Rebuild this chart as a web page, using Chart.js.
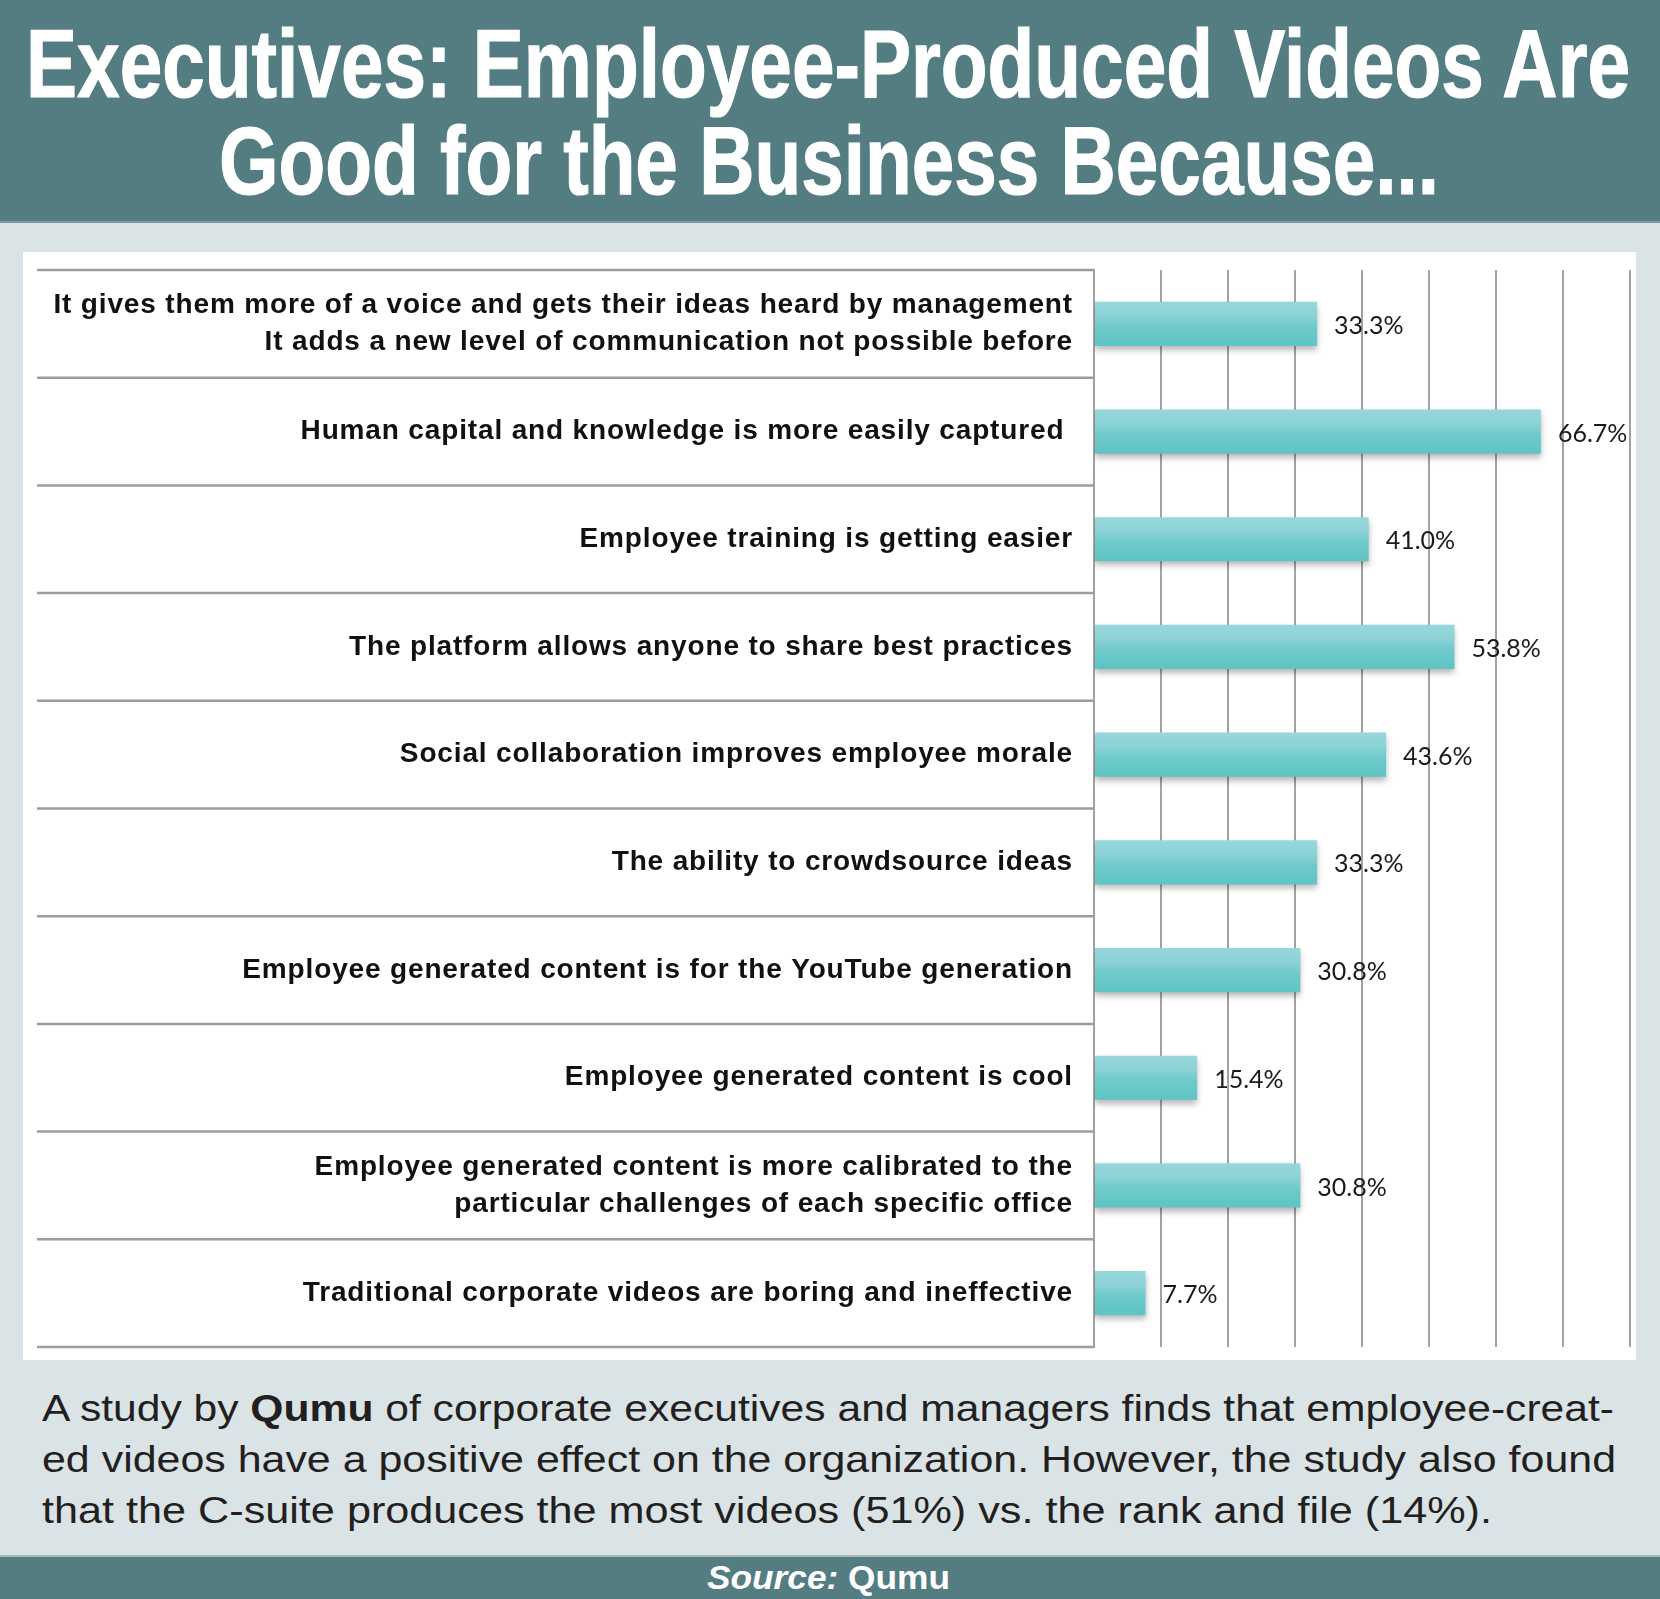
<!DOCTYPE html>
<html>
<head>
<meta charset="utf-8">
<script src="https://cdn.jsdelivr.net/npm/chart.js@4.4.1/dist/chart.umd.min.js"></script>
<style>
  html, body { margin: 0; padding: 0; }
  body { width: 1660px; height: 1599px; overflow: hidden; background: #dae3e5; position: relative; font-family: "Liberation Sans", Arial, sans-serif; }
  #header { position: absolute; left: 0; top: 0; width: 1660px; height: 221px; background: #537d81; border-bottom: 2px solid #7d9a9e; }
  .fit { position: absolute; white-space: nowrap; transform-origin: 0 0; }
  .title { font-family: "Liberation Sans Narrow", "Liberation Sans", Arial, sans-serif; font-weight: bold; font-size: 97px; line-height: 97px; color: #fff; -webkit-text-stroke: 1.2px #fff; }
  #panel { position: absolute; left: 23px; top: 252px; width: 1613px; height: 1108px; background: #fff; }
  .para { font-size: 36px; line-height: 36px; color: #231f20; }
  #source { position: absolute; left: 0; top: 1555px; width: 1660px; height: 42px; background: #537d81; border-top: 2px solid #a8b8ba; }
  .src { font-weight: bold; font-size: 34px; line-height: 34px; color: #fff; }
</style>
</head>
<body>
<div id="header"></div>
<div class="fit title" data-left="26" data-width="1604" style="top:15px">Executives: Employee-Produced Videos Are</div>
<div class="fit title" data-left="219" data-width="1220" style="top:112px">Good for the Business Because...</div>

<div id="panel"><canvas id="myChart" width="1613" height="1108"></canvas></div>

<div class="fit para" data-left="42" data-width="1572" style="top:1391px">A study by <b>Qumu</b> of corporate executives and managers finds that employee-creat-</div>
<div class="fit para" data-left="42" data-width="1574" style="top:1442px">ed videos have a positive effect on the organization. However, the study also found</div>
<div class="fit para" data-left="42" data-width="1450" style="top:1493px">that the C-suite produces the most videos (51%) vs. the rank and file (14%).</div>

<div id="source"></div>
<div class="fit src" data-left="707" data-width="243" style="top:1560px"><i>Source:</i> Qumu</div>

<script>
const reasons = [
    ['It gives them more of a voice and gets their ideas heard by management', 'It adds a new level of communication not possible before'],
    'Human capital and knowledge is more easily captured ',
    'Employee training is getting easier',
    'The platform allows anyone to share best practices',
    'Social collaboration improves employee morale',
    'The ability to crowdsource ideas',
    'Employee generated content is for the YouTube generation',
    'Employee generated content is cool',
    ['Employee generated content is more calibrated to the', 'particular challenges of each specific office'],
    'Traditional corporate videos are boring and ineffective'
]
const shares = [33.3, 66.7, 41.0, 53.8, 43.6, 33.3, 30.8, 15.4, 30.8, 7.7]
const axisMax = 80
const axisStep = 10

const barPct = 0.41
const labelSpacing = '0.85px'

function fitLines() {
    document.querySelectorAll('.fit').forEach(el => {
        const w = el.getBoundingClientRect().width
        const target = parseFloat(el.dataset.width)
        el.style.left = el.dataset.left + 'px'
        el.style.transform = 'scaleX(' + (target / w) + ')'
    })
}

function barFill(context) {
    const chart = context.chart
    const y = chart.scales.y
    if (!chart.chartArea || !y) return '#70caca'
    const yc = y.getPixelForValue(context.dataIndex)
    const half = (y.getPixelForValue(1) - y.getPixelForValue(0)) * barPct / 2
    const g = chart.ctx.createLinearGradient(0, yc - half, 0, yc + half)
    g.addColorStop(0, '#96d7db')
    g.addColorStop(0.3, '#8dd3d6')
    g.addColorStop(0.55, '#70cacb')
    g.addColorStop(1, '#5ec4c3')
    return g
}

// row separators in the label area + bar shadow + value labels
const rowsPlugin = {
    id: 'rows',
    beforeLayout(chart) { chart.ctx.letterSpacing = labelSpacing },
    beforeDraw(chart) { chart.ctx.letterSpacing = labelSpacing },
    beforeDatasetsDraw(chart) {
        const ctx = chart.ctx
        const y = chart.scales.y
        const area = chart.chartArea
        const step = y.getPixelForValue(1) - y.getPixelForValue(0)
        ctx.save()
        ctx.strokeStyle = '#9d9d9d'
        ctx.lineWidth = 2.5
        for (let i = 0; i <= reasons.length; i++) {
            const py = y.getPixelForValue(0) - step / 2 + i * step
            ctx.beginPath()
            ctx.moveTo(14, py)
            ctx.lineTo(area.left, py)
            ctx.stroke()
        }
        ctx.restore()

        ctx.save()
        ctx.shadowColor = 'rgba(0, 0, 0, 0.28)'
        ctx.shadowBlur = 6
        ctx.shadowOffsetY = 4
    },
    afterDatasetsDraw(chart) {
        const ctx = chart.ctx
        ctx.restore()
        const meta = chart.getDatasetMeta(0)
        ctx.save()
        ctx.letterSpacing = '0px'
        ctx.font = '25px Lato, "Open Sans", sans-serif'
        ctx.fillStyle = '#1a1a1a'
        ctx.textAlign = 'left'
        ctx.textBaseline = 'middle'
        meta.data.forEach((bar, i) => {
            ctx.fillText(shares[i].toFixed(1) + '%', bar.x + 17, bar.y + 2)
        })
        ctx.restore()
    }
}

const chartCtx = document.getElementById('myChart')

document.fonts.ready.then(() => {
    fitLines()

    new Chart(chartCtx, {
        type: 'bar',
        data: {
            labels: reasons,
            datasets: [{
                data: shares,
                backgroundColor: barFill,
                borderWidth: 0,
                barPercentage: barPct,
                categoryPercentage: 1
            }]
        },
        options: {
            indexAxis: 'y',
            responsive: false,
            animation: false,
            layout: { padding: { left: 0, right: 6, top: 18, bottom: 13 } },
            plugins: {
                legend: { display: false },
                tooltip: { enabled: false },
                title: { display: false }
            },
            scales: {
                x: {
                    min: 0,
                    max: axisMax,
                    ticks: { display: false, stepSize: axisStep },
                    grid: { color: '#a2a2a2', lineWidth: 2, drawTicks: false },
                    border: { display: false },
                    afterFit(scale) {
                        scale.height = 0
                        scale.paddingLeft = 0
                        scale.paddingRight = 0
                    }
                },
                y: {
                    grid: { display: false, drawTicks: false },
                    border: { display: true, color: '#a2a2a2', width: 2 },
                    ticks: {
                        color: '#111111',
                        padding: 21,
                        font: { family: '"Liberation Sans", Arial, sans-serif', weight: 'bold', size: 28, lineHeight: 1.32 }
                    },
                    afterFit(scale) {
                        scale.width = 1071
                        scale.paddingTop = 0
                        scale.paddingBottom = 0
                    }
                }
            }
        },
        plugins: [rowsPlugin]
    })
})
</script>
</body>
</html>
